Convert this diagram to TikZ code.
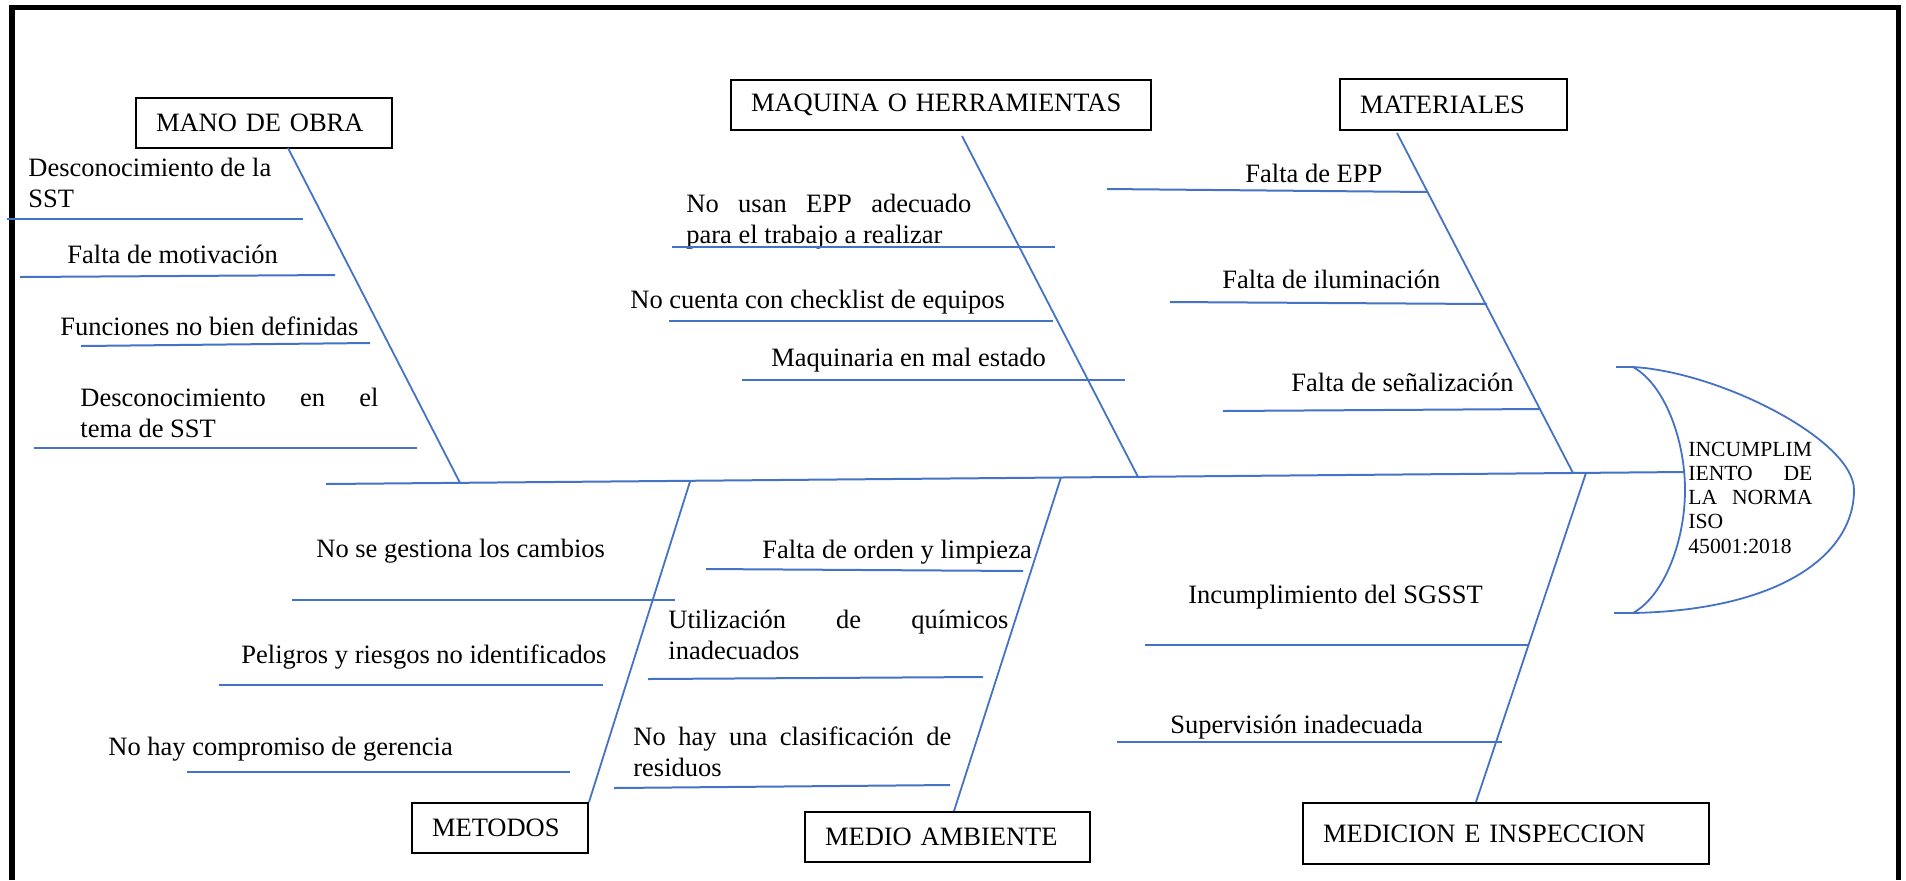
\documentclass[tikz,border=0pt]{standalone}
\usepackage{fontspec}
\setmainfont{Liberation Serif}
\definecolor{fishblue}{RGB}{68,114,196}
\newcommand{\fsmain}{\fontsize{13.25pt}{15.5pt}\selectfont}
\newcommand{\fshead}{\fontsize{10.8pt}{12.15pt}\selectfont}
\newcommand{\jline}[2]{\makebox[#1][s]{#2}}
\newcommand{\twolines}[2]{\parbox[t]{200pt}{#1\\#2}}
\tikzset{
  bl/.style={draw=fishblue, line width=1pt},
  bone/.style={draw=fishblue, line width=0.9pt},
  txt/.style={anchor=base west, inner sep=0pt, font=\fsmain},
  catbox/.style={draw=black, line width=1pt, anchor=north west, inner xsep=10pt,
    inner ysep=0pt, align=left, font=\fsmain},
  frame/.style={draw=black, line width=2.8pt, line join=miter}
}
\begin{document}
\begin{tikzpicture}[x=0.5pt,y=-0.5pt]
\useasboundingbox (0,0) rectangle (1906,880);
% outer frame (bottom edge lies outside the picture)
\draw[frame] (12,880) -- (12,7.5) -- (1898.5,7.5) -- (1898.5,880);

% category boxes
\node[catbox, text width=108pt, minimum height=25pt] (mano) at (135,97) {MANO DE OBRA};
\node[catbox, text width=190pt, minimum height=25pt] (maq) at (730,79) {MAQUINA O HERRAMIENTAS};
\node[catbox, text width=93.5pt, minimum height=25.5pt] (mat) at (1339,78) {MATERIALES};
\node[catbox, text width=68pt, minimum height=25pt] (met) at (411,802) {METODOS};
\node[catbox, text width=122.5pt, minimum height=25pt] (med) at (804,811) {MEDIO AMBIENTE};
\node[catbox, text width=183pt, minimum height=30.5pt] (medic) at (1302,802) {MEDICION E INSPECCION};

% spine
\coordinate (spL) at (326,484);
\coordinate (spR) at (1684,472);
\draw[bl] (spL) -- (spR);

% bone coordinates
\coordinate (manoTop) at (288,148);
\coordinate (manoJ) at (460,482.8);
\coordinate (maqTop) at (962,136);
\coordinate (maqJ) at (1138,476.8);
\coordinate (matTop) at (1397,133);
\coordinate (matJ) at (1573,473);
\coordinate (metJ) at (690,481.6);
\coordinate (medJ) at (1061,477.3);
\coordinate (medicJ) at (1586,472.9);
\coordinate (medBot) at (954,811);
\coordinate (medicBot) at (1476,802);

\draw[bone] (manoTop) -- (manoJ);
\draw[bone] (maqTop) -- (maqJ);
\draw[bone] (matTop) -- (matJ);
\draw[bone] (metJ) -- (met.north east);
\draw[bone] (medJ) -- (medBot);
\draw[bone] (medicJ) -- (medicBot);

% head
\coordinate (hTop) at (1633,367);
\coordinate (hBot) at (1633,613);
\coordinate (hTopT) at (1616,367);
\coordinate (hBotT) at (1614,613);
\draw[bone] (hTopT) -- (hTop);
\draw[bone] (hBotT) -- (hBot);
\draw[bone] (hTop) .. controls (1665,385) and (1685,440) .. (1685,490)
  .. controls (1685,540) and (1665,595) .. (hBot);
\draw[bone] (hTop) .. controls (1720,372) and (1854,440) .. (1854,490)
  .. controls (1854,555) and (1780,610) .. (hBot);
\node[anchor=base west, inner sep=0pt, font=\fshead] (head) at (1688,456)
  {\parbox[t]{62pt}{INCUMPLIM\\\jline{62pt}{IENTO DE}\\\jline{62pt}{LA NORMA}\\ISO\\45001:2018}};

% MANO DE OBRA causes
\node[txt] (t1) at (28,176) {\twolines{Desconocimiento de la}{SST}};
\draw[bl] (7,219) -- (303,219);
\node[txt] (t2) at (67,263) {Falta de motivación};
\draw[bl] (20,277) -- (335,275);
\node[txt] (t3) at (60,335) {Funciones no bien definidas};
\draw[bl] (81,346) -- (370,343);
\node[txt] (t4) at (80,406) {\twolines{\jline{149pt}{Desconocimiento en el}}{tema de SST}};
\draw[bl] (34,448) -- (417,448);

% MAQUINA causes
\node[txt] (m1) at (686,212) {\twolines{\jline{142.5pt}{No usan EPP adecuado}}{para el trabajo a realizar}};
\draw[bl] (672,247) -- (1055,247);
\node[txt] (m2) at (630,308) {No cuenta con checklist de equipos};
\draw[bl] (669,321) -- (1053,321);
\node[txt] (m3) at (771,366) {Maquinaria en mal estado};
\draw[bl] (742,380) -- (1125,380);

% MATERIALES causes
\node[txt] (a1) at (1245,182) {Falta de EPP};
\draw[bl] (1107,189) -- (1428,192);
\node[txt] (a2) at (1222,288) {Falta de iluminación};
\draw[bl] (1170,302) -- (1487,304);
\node[txt] (a3) at (1291,391) {Falta de señalización};
\draw[bl] (1223,411) -- (1540,409);

% METODOS causes
\node[txt] (e1) at (316,557) {No se gestiona los cambios};
\draw[bl] (292,600) -- (675,600);
\node[txt] (e2) at (241,663) {Peligros y riesgos no identificados};
\draw[bl] (219,685) -- (603,685);
\node[txt] (e3) at (108,755) {No hay compromiso de gerencia};
\draw[bl] (187,772) -- (570,772);

% MEDIO AMBIENTE causes
\node[txt] (d1) at (762,558) {Falta de orden y limpieza};
\draw[bl] (706,569) -- (1023,571);
\node[txt] (d2) at (668,628) {\twolines{\jline{170pt}{Utilización de químicos}}{inadecuados}};
\draw[bl] (648,679) -- (983,677);
\node[txt] (d3) at (633,745) {\twolines{\jline{159pt}{No hay una clasificación de}}{residuos}};
\draw[bl] (614,788) -- (950,785);

% MEDICION causes
\node[txt] (c1) at (1188,603) {Incumplimiento del SGSST};
\draw[bl] (1145,645) -- (1529,645);
\node[txt] (c2) at (1170,733) {Supervisión inadecuada};
\draw[bl] (1117,742) -- (1502,742);
\end{tikzpicture}
\end{document}
